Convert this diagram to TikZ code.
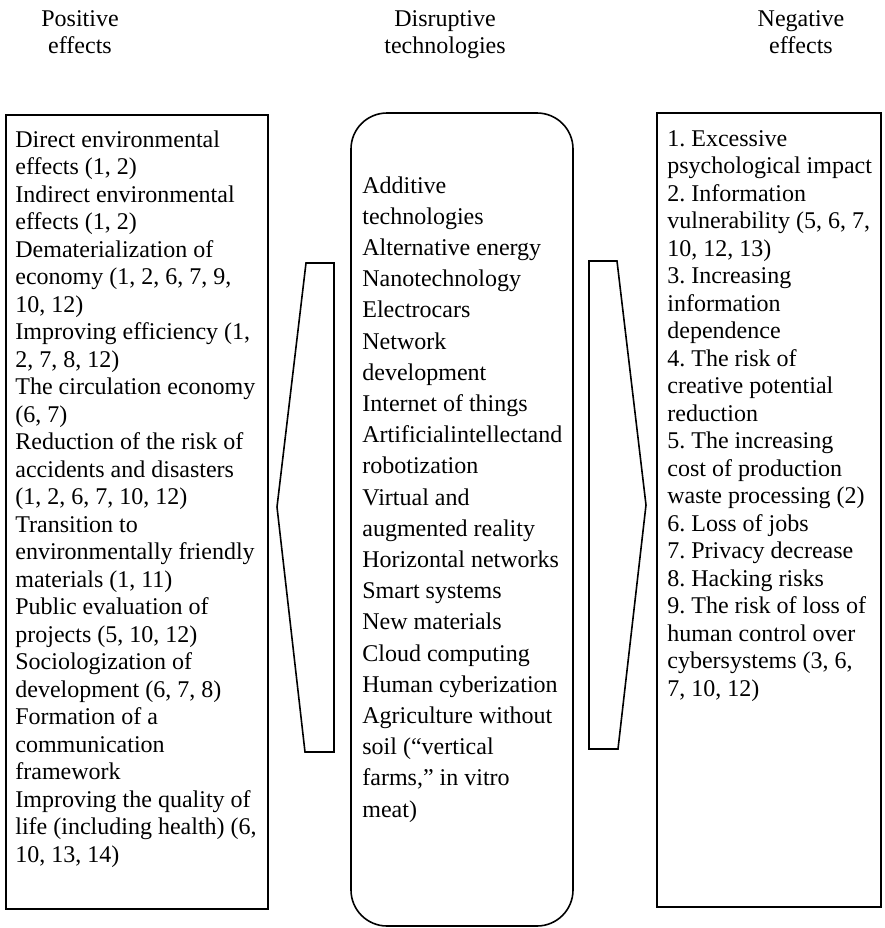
\documentclass[tikz,border=0pt]{standalone}
\usepackage{fontspec}
\setmainfont{Liberation Serif}
\frenchspacing
\tikzset{
  rahmen/.style={draw=black,line width=0.8pt},
  pfeil/.style={draw=black,line width=0.8pt,line join=miter},
  spalte/.style={anchor=north west,align=left,inner sep=0pt,font=\fontsize{12}{13.75}\selectfont},
  spaltem/.style={spalte,font=\fontsize{12}{15.6}\selectfont},
  kopf/.style={anchor=north,align=center,inner sep=0pt,font=\fontsize{12}{13.75}\selectfont},
}
\begin{document}
\begin{tikzpicture}[x=0.5pt,y=-0.5pt]
  \useasboundingbox (0,0) rectangle (885,928);
  % Ueberschriften
  \node[kopf] (kpos) at (80,10) {Positive\\effects};
  \node[kopf] (kdis) at (445,10) {Disruptive\\technologies};
  \node[kopf] (kneg) at (801,10) {Negative\\effects};
  % Kaesten und Pfeile
  \draw[rahmen] (6,115) rectangle (268,909);
  \draw[rahmen,rounded corners=18pt] (351,113) rectangle (573,926);
  \draw[rahmen] (657,113) rectangle (881,907);
  \draw[pfeil] (306,263)--(334,263)--(334,752)--(305,752)--(277,507)--cycle;
  \draw[pfeil] (589,261)--(617,261)--(646,505)--(618,749)--(589,749)--cycle;
  % Texte
  \node[spalte] (pos) at (15,130) {Direct environmental\\effects (1, 2)\\Indirect environmental\\effects (1, 2)\\Dematerialization of\\economy (1, 2, 6, 7, 9,\\10, 12)\\Improving efficiency (1,\\2, 7, 8, 12)\\The circulation economy\\(6, 7)\\Reduction of the risk of\\accidents and disasters\\(1, 2, 6, 7, 10, 12)\\Transition to\\environmentally friendly\\materials (1, 11)\\Public evaluation of\\projects (5, 10, 12)\\Sociologization of\\development (6, 7, 8)\\Formation of a\\communication\\framework\\Improving the quality of\\life (including health) (6,\\10, 13, 14)};
  \node[spaltem] (tech) at (362,176) {Additive\\technologies\\Alternative energy\\Nanotechnology\\Electrocars\\Network\\development\\Internet of things\\Artificialintellectand\\robotization\\Virtual and\\augmented reality\\Horizontal networks\\Smart systems\\New materials\\Cloud computing\\Human cyberization\\Agriculture without\\soil (“vertical\\farms," in vitro\\meat)};
  \node[spalte] (neg) at (667,130) {1. Excessive\\psychological impact\\2. Information\\vulnerability (5, 6, 7,\\10, 12, 13)\\3. Increasing\\information\\dependence\\4. The risk of\\creative potential\\reduction\\5. The increasing\\cost of production\\waste processing (2)\\6. Loss of jobs\\7. Privacy decrease\\8. Hacking risks\\9. The risk of loss of\\human control over\\cybersystems (3, 6,\\7, 10, 12)};
\end{tikzpicture}
\end{document}
